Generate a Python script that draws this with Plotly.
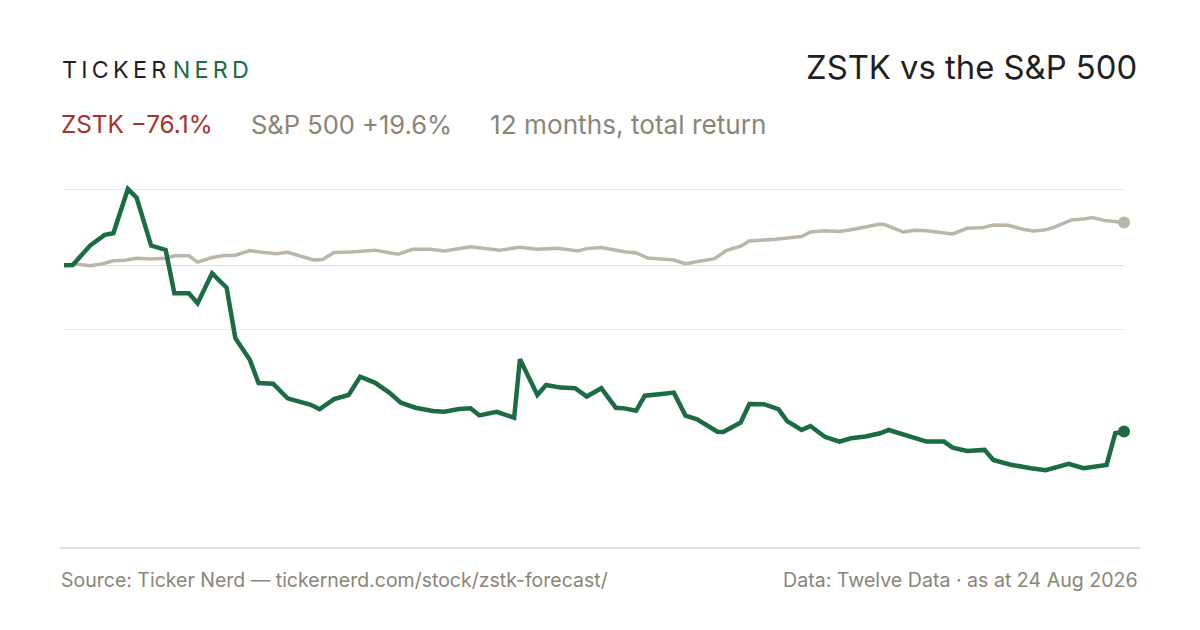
import pandas as pd
import plotly.graph_objects as go

# 12 months to 24 Aug 2026, total return in %
start_date = "2025-08-24"

zstk_days = [0, 3, 9, 14, 17, 22, 25, 30, 35, 38, 43, 46, 51, 56, 59, 64, 67, 72, 77, 85,
             88, 93, 98, 102, 107, 112, 116, 121, 127, 131, 136, 140, 143, 149, 155, 157,
             163, 166, 171, 176, 180, 185, 190, 193, 197, 200, 205, 210, 214, 218, 225,
             227, 233, 236, 241, 246, 249, 254, 257, 262, 267, 271, 276, 281, 284, 291,
             297, 303, 306, 311, 317, 320, 326, 333, 338, 346, 351, 359, 362, 365]
zstk_return = [0.0, 0.1, 9.0, 13.9, 14.6, 34.9, 30.9, 9.0, 7.0, -12.8, -12.8, -17.4, -3.7,
               -10.3, -33.4, -43.3, -53.9, -54.2, -60.9, -63.9, -65.9, -61.3, -59.4, -51.0,
               -53.7, -58.3, -62.9, -65.2, -66.7, -67.0, -65.8, -65.5, -68.7, -67.1, -69.8,
               -43.0, -59.4, -54.8, -56.0, -56.3, -60.1, -56.3, -65.2, -65.5, -66.6, -59.7,
               -59.0, -58.3, -68.8, -70.5, -76.2, -76.3, -72.0, -63.5, -63.6, -65.9, -71.3,
               -75.4, -73.6, -78.5, -80.7, -79.2, -78.4, -76.9, -75.4, -78.0, -80.7, -80.7,
               -83.5, -85.0, -84.5, -89.1, -91.3, -92.9, -93.8, -90.9, -92.9, -91.4, -76.9,
               -76.1]

spx_days = [0, 4, 9, 13, 17, 21, 25, 30, 35, 38, 43, 46, 51, 55, 59, 64, 69, 73, 77, 82,
            86, 89, 93, 99, 102, 107, 115, 120, 126, 131, 140, 150, 157, 163, 170, 177,
            180, 185, 193, 197, 201, 206, 210, 214, 224, 228, 233, 236, 241, 245, 254,
            257, 262, 267, 272, 281, 283, 289, 293, 297, 306, 311, 316, 320, 325, 331,
            334, 338, 341, 347, 351, 354, 359, 365]
spx_return = [0.0, 0.5, -0.2, 0.6, 2.0, 2.3, 3.2, 2.9, 3.2, 4.3, 4.3, 1.4, 3.5, 4.4, 4.6,
              6.7, 5.8, 5.3, 5.9, 3.9, 2.4, 2.6, 5.8, 6.1, 6.5, 6.9, 5.0, 7.3, 7.3, 6.5,
              8.5, 6.9, 8.2, 7.3, 7.8, 6.5, 7.6, 8.1, 6.2, 5.6, 3.3, 3.0, 2.4, 0.7, 3.0,
              6.7, 8.7, 11.1, 11.4, 11.9, 13.1, 15.2, 15.8, 15.4, 16.5, 18.8, 18.4, 15.2,
              16.0, 15.8, 14.3, 16.9, 17.1, 18.4, 18.3, 16.2, 15.7, 16.2, 17.4, 20.7, 21.1,
              21.8, 20.3, 19.6]

grid_values = [-29.5, 34.8]

GREEN = "#1b6b43"
SAND = "#bcb5a9"
RED = "#a8322a"
MUTED = "#8a8577"
INK = "#1f1f1f"

t0 = pd.Timestamp(start_date)
zstk_dates = [t0 + pd.Timedelta(days=d) for d in zstk_days]
spx_dates = [t0 + pd.Timedelta(days=d) for d in spx_days]

W, H = 1200, 630
L, R, T, B = 64, 1124, 180, 548


def px(x):
    return (x - L) / (R - L)


def py(y):
    return (B - y) / (B - T)


fig = go.Figure()

fig.add_trace(go.Scatter(x=spx_dates, y=spx_return, mode="lines",
                         line=dict(color=SAND, width=3.5), hoverinfo="skip"))
fig.add_trace(go.Scatter(x=zstk_dates, y=zstk_return, mode="lines",
                         line=dict(color=GREEN, width=4.5), hoverinfo="skip"))
fig.add_trace(go.Scatter(x=[spx_dates[-1]], y=[spx_return[-1]], mode="markers",
                         marker=dict(color=SAND, size=12), cliponaxis=False, hoverinfo="skip"))
fig.add_trace(go.Scatter(x=[zstk_dates[-1]], y=[zstk_return[-1]], mode="markers",
                         marker=dict(color=GREEN, size=12), cliponaxis=False, hoverinfo="skip"))

font = "Inter, Roboto, sans-serif"
ann = []
ann.append(dict(x=px(60), y=py(70), xanchor="left", yanchor="middle",
                text="T\u2009I\u2009C\u2009K\u2009E\u2009R <span style='color:%s'>N\u2009E\u2009R\u2009D</span>" % GREEN,
                font=dict(family=font, size=23.3, color=INK)))
ann.append(dict(x=px(1139), y=py(67), xanchor="right", yanchor="middle",
                text="ZSTK vs the S&P 500", font=dict(family=font, size=32.8, color=INK)))
ann.append(dict(x=px(59), y=py(124), xanchor="left", yanchor="middle",
                text="ZSTK \u221276.1%", font=dict(family=font, size=24.3, color=RED)))
ann.append(dict(x=px(249), y=py(124), xanchor="left", yanchor="middle",
                text="S&P 500 +19.6%", font=dict(family=font, size=25.5, color=MUTED)))
ann.append(dict(x=px(488), y=py(124), xanchor="left", yanchor="middle",
                text="12 months, total return", font=dict(family=font, size=26.2, color=MUTED)))
ann.append(dict(x=px(59), y=py(580), xanchor="left", yanchor="middle",
                text="Source: Ticker Nerd \u2014 tickernerd.com/stock/zstk-forecast/",
                font=dict(family=font, size=19.5, color=MUTED)))
ann.append(dict(x=px(1140), y=py(580), xanchor="right", yanchor="middle",
                text="Data: Twelve Data \u00b7 as at 24 Aug 2026",
                font=dict(family=font, size=19.6, color=MUTED)))
for a in ann:
    a.update(xref="paper", yref="paper", showarrow=False)

fig.update_layout(
    width=W, height=H,
    margin=dict(l=L, r=W - R, t=T, b=H - B),
    paper_bgcolor="white", plot_bgcolor="white",
    showlegend=False, hovermode=False,
    annotations=ann,
    shapes=[dict(type="line", xref="paper", yref="paper", x0=px(60), x1=px(1140),
                 y0=0, y1=0, line=dict(color="#dcd8cd", width=1.5))],
    xaxis=dict(range=[zstk_dates[0], zstk_dates[-1]], showgrid=False, showticklabels=False,
               zeroline=False, showline=False, ticks=""),
    yaxis=dict(range=[-129.4, 39.0], tickvals=grid_values, showticklabels=False,
               gridcolor="#eeebe5", gridwidth=1.2, zeroline=True, zerolinecolor="#e0dcd2",
               zerolinewidth=1.2, showline=False, ticks=""),
)

fig.write_html("out.html", config={"displayModeBar": False},
               post_script="document.body.style.margin='0';")
